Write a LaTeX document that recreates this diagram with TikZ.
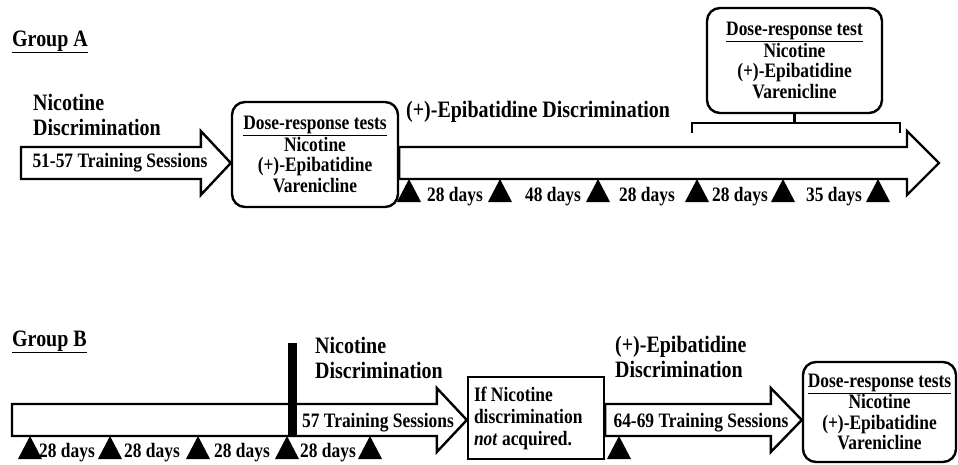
\documentclass[tikz,border=0pt]{standalone}
\usepackage{fontspec}
\setmainfont{Liberation Serif}[FakeStretch=0.85]
\usetikzlibrary{calc}

\tikzset{
  fat/.style={draw, line width=2.4pt, fill=white, miter limit=20},
  brace/.style={draw, line width=2.4pt},
  lbl/.style={font=\fontsize{20.5}{20.5}\selectfont\bfseries, inner sep=0pt},
  big/.style={font=\fontsize{23.5}{25}\selectfont\bfseries, inner sep=0pt, align=left},
  testbox/.style={draw, line width=2.4pt, fill=white, rounded corners=13pt, align=center,
    inner sep=0pt, font=\fontsize{20.5}{20.5}\selectfont\bfseries},
}

% block arrow: tail, tip, head length
\newcommand{\fatarrow}[3]{%
  \draw[fat] ($(#1)+(0,-\shaft)$) -- ($(#2)+(-#3,-\shaft)$) -- ($(#2)+(-#3,-\head)$)
    -- (#2) -- ($(#2)+(-#3,\head)$) -- ($(#2)+(-#3,\shaft)$) -- ($(#1)+(0,\shaft)$) -- cycle;}

\begin{document}
\begin{tikzpicture}[x=1pt, y=-1pt]

	% parameters
	\def\shaft{16}     % half height of arrow shaft
	\def\head{32}      % half height of arrow head
	
	\useasboundingbox (0,0) rectangle (958,464);
	
	% ---------- group A ----------
	\node[big, anchor=base west] (grpA) at (12,46) {\underline{Group A}};
	\node[big, anchor=north west] (nicA) at (33,94) {Nicotine\\Discrimination};
	\node[big, anchor=base west] (epiA) at (406,117) {(+)-Epibatidine Discrimination};
	
	% dose-response boxes
	\node[testbox, minimum width=166pt, minimum height=105pt] (box1) at (315,154.5)
	  {\underline{Dose-response tests}\\Nicotine\\(+)-Epibatidine\\Varenicline};
	\node[testbox, minimum width=175pt, minimum height=105pt] (boxTR) at (794.5,60.5)
	  {\underline{Dose-response test}\\Nicotine\\(+)-Epibatidine\\Varenicline};
	
	% arrows
	\coordinate (rowA) at (0,163);
	\coordinate (a0) at (21,163);
	\coordinate (a1) at (box1.west |- rowA);
	\coordinate (a2) at (box1.east |- rowA);
	\coordinate (a3) at (939,163);
	\fatarrow{a0}{a1}{30}
	\fatarrow{a2}{a3}{32}
	\node[lbl, anchor=base] (trainA) at (120,167) {51-57 Training Sessions};
	
	% bracket
	\coordinate (brL) at (692,123);
	\coordinate (brR) at (900,123);
	\draw[brace] ($(brL)+(0,10)$) -- (brL) -- (brR) -- ($(brR)+(0,10)$);
	\draw[brace] (boxTR.south) -- (boxTR.south |- brL);
	
	% injections and intervals
	\foreach \x in {409,500,598,697,783,878}
	  \fill (\x-12,202) -- (\x,179) -- (\x+12,202) -- cycle;
	\foreach \x/\d [count=\i] in {455/28, 553/48, 647/28, 740/28, 834/35}
	  \node[lbl, anchor=base] (dayA\i) at (\x,201) {\d\ days};
	
	% ---------- group B ----------
	\node[big, anchor=base west] (grpB) at (12,346) {\underline{Group B}};
	\node[big, anchor=north west] (nicB) at (315,336.5) {Nicotine\\Discrimination};
	\node[big, anchor=north west] (epiB) at (615,336) {(+)-Epibatidine\\Discrimination};
	
	\node[draw, line width=2.4pt, fill=white, align=flush left, text width=124pt, inner sep=6pt,
	  minimum height=82pt, font=\fontsize{20.5}{22}\selectfont\bfseries] (ifbox) at (536,418)
	  {If Nicotine\\discrimination\\\textit{not} acquired.};
	\node[testbox, minimum width=153pt, minimum height=100pt] (lastbox) at (879.5,412)
	  {\underline{Dose-response tests}\\Nicotine\\(+)-Epibatidine\\Varenicline};
	
	% arrows
	\coordinate (rowB) at (0,420);
	\coordinate (b0) at (12,420);
	\coordinate (b1) at (ifbox.west |- rowB);
	\coordinate (b2) at (ifbox.east |- rowB);
	\coordinate (b3) at (lastbox.west |- rowB);
	\fatarrow{b0}{b1}{30}
	\fatarrow{b2}{b3}{31}
	\fill (288,343) rectangle (297,435);
	\node[lbl, anchor=base] (trainB1) at (378,427) {57 Training Sessions};
	\node[lbl, anchor=base] (trainB2) at (701,427) {64-69 Training Sessions};
	
	% injections and intervals
	\foreach \x in {30,110,198,287,370,619}
	  \fill (\x-12,459) -- (\x,436) -- (\x+12,459) -- cycle;
	\foreach \x [count=\i] in {67,152,242,328}
	  \node[lbl, anchor=base] (dayB\i) at (\x,457) {28 days};
	
\end{tikzpicture}
\end{document}
